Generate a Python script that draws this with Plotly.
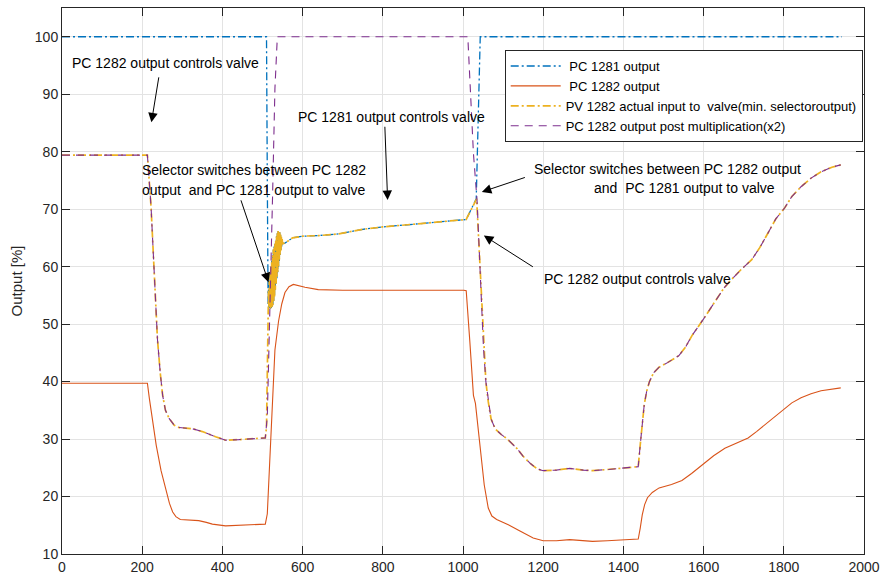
import plotly.graph_objects as go

# ---------------- data ----------------
# selector oscillation band (shared by PC 1281 and PV 1282 where they coincide)
osc_x = [514, 515, 516, 517, 518, 519, 520, 521, 522, 523, 524, 525, 526, 527, 528, 529, 530,
         531, 532, 533, 534, 535, 536, 537, 538, 539, 540, 541, 542, 543, 544, 545, 546, 547,
         548, 549, 550]
osc_y = [53.5, 56.0, 53.0, 57.5, 52.8, 59.0, 52.7, 60.0, 52.8, 61.0, 53.0, 62.0, 53.3, 63.0,
         54.0, 63.5, 54.8, 64.0, 56.0, 64.5, 57.0, 65.3, 58.0, 65.8, 59.0, 66.2, 60.0, 66.0,
         61.0, 66.0, 62.0, 65.6, 62.8, 65.2, 63.5, 64.8, 64.0]

pc1281_x = [0, 510, 512] + osc_x + [556, 565, 575, 600, 640, 690, 750, 800, 870, 940, 1008,
                                     1033, 1043, 1945]
pc1281_y = [100, 100, 75] + osc_y + [64.1, 64.6, 65.0, 65.3, 65.4, 65.7, 66.5, 66.9, 67.3,
                                     67.7, 68.2, 71.8, 100, 100]

pc1282_x = [0, 213, 218, 224, 235, 247, 259, 268, 276, 284, 295, 317, 341, 360, 375, 408, 441,
            507, 512, 519, 525, 531, 540, 548, 556, 566, 577, 606, 639, 700, 1002, 1008, 1017,
            1026, 1031, 1043, 1053, 1063, 1072, 1084, 1113, 1142, 1160, 1175, 1200, 1233, 1266,
            1300, 1323, 1360, 1398, 1437, 1442, 1447, 1453, 1460, 1472, 1489, 1520, 1546, 1570,
            1596, 1625, 1653, 1680, 1711, 1732, 1752, 1780, 1802, 1820, 1843, 1868, 1893, 1920,
            1942]
pc1282_y = [39.7, 39.7, 37.0, 34.0, 28.9, 24.5, 21.2, 18.8, 17.3, 16.5, 16.0, 15.9, 15.8, 15.5,
            15.2, 14.9, 15.0, 15.2, 17.0, 26.6, 36.0, 45.5, 50.5, 53.5, 55.5, 56.5, 56.9, 56.4,
            56.0, 55.9, 55.9, 55.8, 47.0, 37.6, 36.2, 27.8, 22.0, 18.0, 16.6, 16.0, 15.1, 14.0,
            13.3, 12.8, 12.3, 12.3, 12.5, 12.3, 12.2, 12.3, 12.5, 12.6, 14.5, 16.8, 18.6, 19.8,
            20.7, 21.5, 22.1, 22.8, 24.0, 25.5, 27.1, 28.4, 29.3, 30.2, 31.3, 32.4, 34.0, 35.3,
            36.3, 37.2, 37.9, 38.4, 38.7, 38.9]

pv1282_x = ([0, 213, 222, 230, 238, 245, 251, 258, 267, 280, 292, 325, 350, 383, 408, 441, 507,
             510, 512] + osc_x +
            [556, 565, 575, 600, 640, 690, 750, 800, 870, 940, 1008, 1034, 1043, 1051, 1057, 1063,
             1070, 1080, 1095, 1109, 1134, 1150, 1167, 1185, 1200, 1233, 1266, 1300, 1323, 1360,
             1398, 1437, 1442, 1447, 1452, 1458, 1465, 1475, 1489, 1510, 1538, 1555, 1571, 1600,
             1629, 1650, 1670, 1695, 1720, 1740, 1761, 1780, 1802, 1820, 1843, 1868, 1893, 1920,
             1942])
pv1282_y = ([79.4, 79.4, 70.5, 59.0, 47.4, 41.5, 37.6, 35.0, 33.6, 32.4, 32.0, 31.8, 31.3, 30.4,
             29.8, 29.9, 30.2, 32.0, 40.0] + osc_y +
            [64.1, 64.6, 65.0, 65.3, 65.4, 65.7, 66.5, 66.9, 67.3, 67.7, 68.2, 71.8, 59.0, 46.0,
             40.0, 36.5, 33.5, 31.8, 30.8, 30.1, 28.4, 27.0, 25.8, 24.8, 24.5, 24.6, 24.9, 24.6,
             24.5, 24.7, 24.9, 25.2, 29.0, 33.3, 36.0, 38.3, 40.0, 41.5, 42.5, 43.3, 44.5, 46.0,
             48.0, 50.9, 54.0, 56.2, 57.8, 59.6, 61.2, 63.3, 65.9, 68.3, 70.2, 72.2, 73.9, 75.4,
             76.5, 77.3, 77.7])

post_x = [0, 213, 222, 230, 238, 245, 251, 258, 267, 280, 292, 325, 350, 383, 408, 441, 507,
          512, 519, 525, 531, 537, 1012, 1018, 1026, 1035, 1043, 1051, 1057, 1063, 1070, 1080,
          1095, 1109, 1134, 1150, 1167, 1185, 1200, 1233, 1266, 1300, 1323, 1360, 1398, 1437,
          1442, 1447, 1452, 1458, 1465, 1475, 1489, 1510, 1538, 1555, 1571, 1600, 1629, 1650,
          1670, 1695, 1720, 1740, 1761, 1780, 1802, 1820, 1843, 1868, 1893, 1920, 1942]
post_y = [79.4, 79.4, 70.5, 59.0, 47.4, 41.5, 37.6, 35.0, 33.6, 32.4, 32.0, 31.8, 31.3, 30.4,
          29.8, 29.9, 30.2, 34.0, 53.0, 72.0, 91.0, 100, 100, 91.2, 79.7, 71.6, 59.0, 46.0, 40.0,
          36.5, 33.5, 31.8, 30.8, 30.1, 28.4, 27.0, 25.8, 24.8, 24.5, 24.6, 24.9, 24.6, 24.5,
          24.7, 24.9, 25.2, 29.0, 33.3, 36.0, 38.3, 40.0, 41.5, 42.5, 43.3, 44.5, 46.0, 48.0,
          50.9, 54.0, 56.2, 57.8, 59.6, 61.2, 63.3, 65.9, 68.3, 70.2, 72.2, 73.9, 75.4, 76.5,
          77.3, 77.7]

names = [" PC 1281 output", " PC 1282 output",
         "PV 1282 actual input to  valve(min. selectoroutput)",
         "PC 1282 output post multiplication(x2)"]
x_ticks = [0, 200, 400, 600, 800, 1000, 1200, 1400, 1600, 1800, 2000]
y_ticks = [10, 20, 30, 40, 50, 60, 70, 80, 90, 100]

FONT = "Liberation Sans, Arial, Helvetica, sans-serif"
AX = "#262626"

fig = go.Figure()
fig.add_trace(go.Scatter(x=pc1281_x, y=pc1281_y, mode="lines", name=names[0],
                         line=dict(color="#0072BD", width=1.3, dash="8px,3px,2px,3px")))
fig.add_trace(go.Scatter(x=pc1282_x, y=pc1282_y, mode="lines", name=names[1],
                         line=dict(color="#D95319", width=1.1)))
fig.add_trace(go.Scatter(x=pv1282_x, y=pv1282_y, mode="lines", name=names[2],
                         line=dict(color="#EDB120", width=1.7, dash="8px,3px,2px,3px")))
fig.add_trace(go.Scatter(x=post_x, y=post_y, mode="lines", name=names[3],
                         line=dict(color="#7E2F8E", width=1.1, dash="8px,6px")))

txt = dict(font=dict(family=FONT, size=14, color="black"), showarrow=False,
           xanchor="left", yanchor="middle", xref="x", yref="y")
texts = [
    ("PC 1282 output controls valve", 20, 95.5),
    ("Selector switches between PC 1282", 195, 76.8),
    ("output  and PC 1281 output to valve", 195, 73.3),
    ("PC 1281 output controls valve", 584, 86.0),
    ("Selector switches between PC 1282 output", 1173, 77.0),
    ("and  PC 1281 output to valve", 1322, 73.7),
    ("PC 1282 output controls valve", 1196, 57.8),
]
for t, xx, yy in texts:
    fig.add_annotation(text=t, x=xx, y=yy, **txt)

arrows = [
    ((242, 93.2), (223, 85.1)),
    ((445, 71.8), (515, 57.3)),
    ((805, 84.6), (812, 71.6)),
    ((1158, 75.6), (1047, 73.0)),
    ((1178, 59.8), (1052, 65.4)),
]
for (tx, ty), (hx, hy) in arrows:
    fig.add_annotation(x=hx, y=hy, ax=tx, ay=ty, xref="x", yref="y", axref="x", ayref="y",
                       text="", showarrow=True, arrowhead=2, arrowsize=1.9, arrowwidth=1,
                       arrowcolor="black")

axis_common = dict(showline=True, linecolor=AX, linewidth=1, mirror="ticks", ticks="inside",
                   ticklen=8, tickcolor=AX, showgrid=True, gridcolor="#E3E3E3", gridwidth=1,
                   zeroline=False, tickfont=dict(family=FONT, size=14, color=AX))
fig.update_xaxes(range=[0, 2000], tickvals=x_ticks, **axis_common)
fig.update_yaxes(range=[10, 105], tickvals=y_ticks,
                 title=dict(text="Output [%]", font=dict(family=FONT, size=15, color=AX), standoff=8),
                 **axis_common)

fig.update_layout(
    width=887, height=582,
    margin=dict(l=62, r=17, t=7, b=26),
    paper_bgcolor="white", plot_bgcolor="white",
    font=dict(family=FONT, size=13, color="black"),
    legend=dict(x=0.552, y=0.923, xanchor="left", yanchor="top",
                bgcolor="white", bordercolor=AX, borderwidth=1,
                font=dict(family=FONT, size=13, color="black"),
                tracegroupgap=0, itemwidth=50),
    showlegend=True,
)

fig.write_html("out.html")
